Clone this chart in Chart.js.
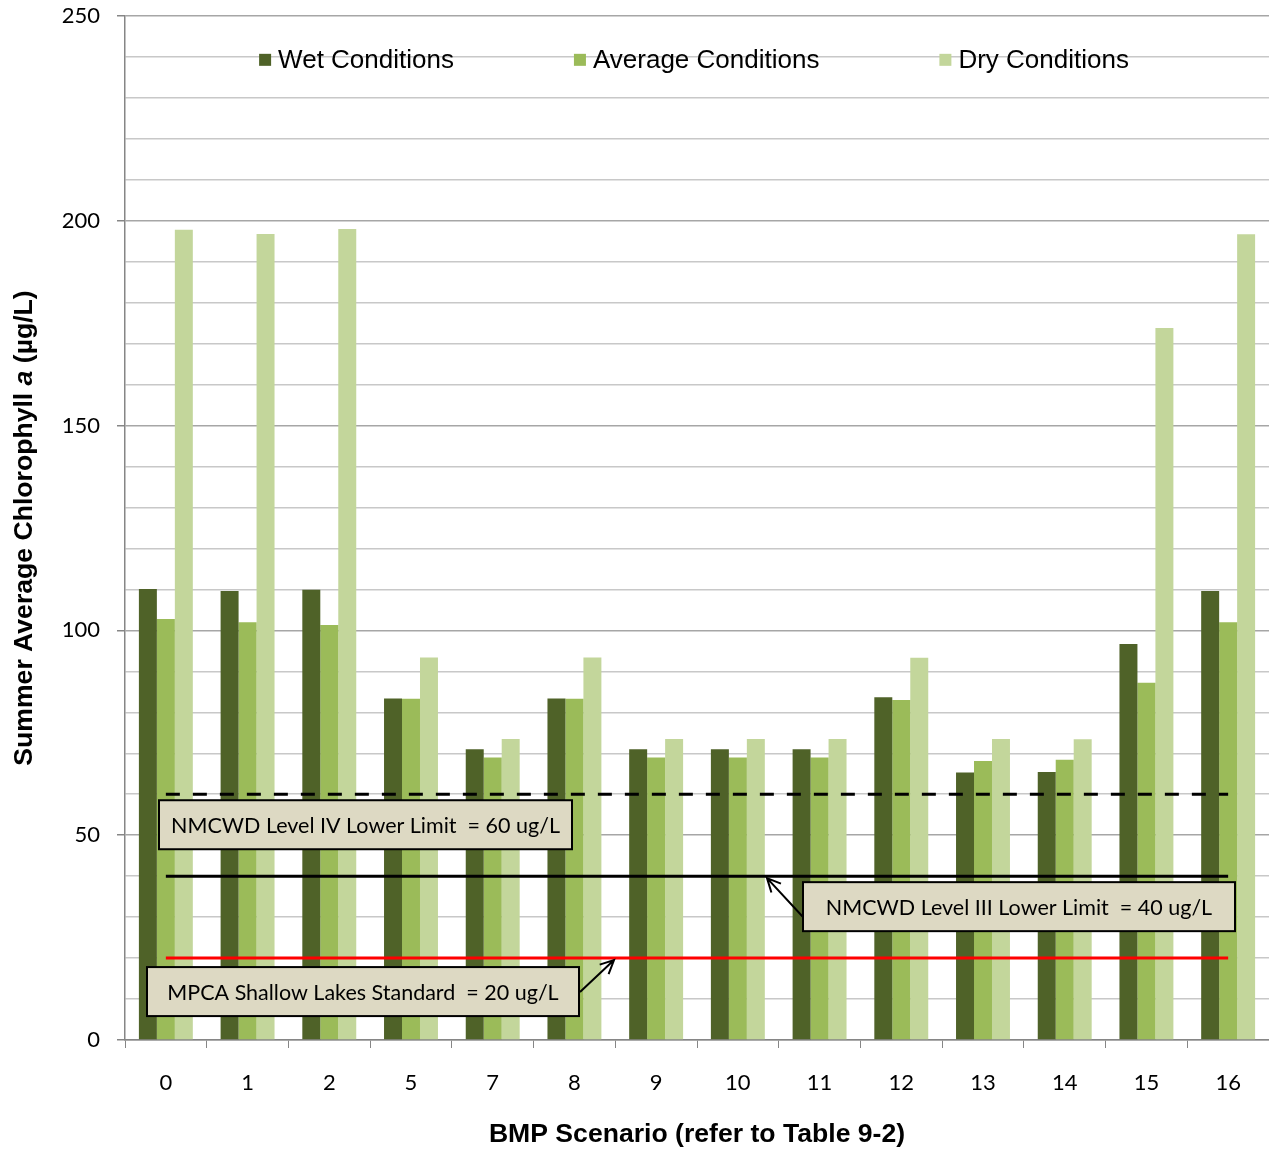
<!DOCTYPE html>
<html>
<head>
<meta charset="utf-8">
<script src="https://cdn.jsdelivr.net/npm/chart.js@4.4.1/dist/chart.umd.min.js"></script>
<style>
  html, body { margin: 0; padding: 0; background: #ffffff; }
  #wrap { width: 1269px; height: 1152px; position: relative; }
</style>
</head>
<body>
<div id="wrap"><canvas id="c" width="1269" height="1152"></canvas></div>
<script>
// ---- Data ----
const categories = ['0', '1', '2', '5', '7', '8', '9', '10', '11', '12', '13', '14', '15', '16'];
const wetValues     = [110.1, 109.6, 109.9, 83.4, 71.0, 83.4, 71.0, 71.0, 71.0, 83.7, 65.3, 65.4, 96.7, 109.6];
const averageValues = [102.8, 102.0, 101.3, 83.3, 69.0, 83.3, 69.0, 69.0, 69.0, 83.0, 68.1, 68.4, 87.2, 102.0];
const dryValues     = [197.8, 196.8, 198.0, 93.4, 73.5, 93.4, 73.5, 73.5, 73.5, 93.3, 73.5, 73.4, 173.8, 196.7];
const seriesLabels = ['Wet Conditions', 'Average Conditions', 'Dry Conditions'];
const seriesColors = ['#4F6228', '#9BBB59', '#C3D69B'];
const referenceLevels = [60, 40, 20];
const referenceLabels = [
  'NMCWD Level IV Lower Limit  = 60 ug/L',
  'NMCWD Level III Lower Limit  = 40 ug/L',
  'MPCA Shallow Lakes Standard  = 20 ug/L'
];
const yTitleParts = ['Summer Average Chlorophyll ', 'a', ' (\u00B5g/L)'];
const xTitle = 'BMP Scenario (refer to Table 9-2)';

const constantLine = (v) => categories.map(() => v);

// ---- Custom drawing plugin (legend, titles, annotation boxes) ----
const decorPlugin = {
  id: 'decor',
  afterDatasetsDraw(chart) {
    const ctx = chart.ctx;
    const area = chart.chartArea;
    const x = chart.scales.x, y = chart.scales.y;

    // Legend inside plot area
    ctx.save();
    ctx.font = '26px "Liberation Sans", Arial, sans-serif';
    ctx.textBaseline = 'middle';
    ctx.textAlign = 'left';
    const box = 12, gapBox = 7, gapItem = 120;
    const widths = seriesLabels.map(l => box + gapBox + ctx.measureText(l).width);
    const total = widths.reduce((a, b) => a + b, 0) + gapItem * (widths.length - 1);
    let lx = (area.left + area.right) / 2 - total / 2 - 3;
    const ly = y.getPixelForValue(239.3);
    seriesLabels.forEach((l, i) => {
      ctx.fillStyle = seriesColors[i];
      ctx.fillRect(lx, ly - box / 2, box, box);
      ctx.fillStyle = '#000000';
      ctx.fillText(l, lx + box + gapBox, ly + 1);
      lx += widths[i] + gapItem;
    });
    ctx.restore();

    // Annotation boxes
    const boxes = [
      { left: 159, right: 572, cy: y.getPixelForValue(60) + 30.5, h: 49 },
      { left: 803, right: 1235, cy: y.getPixelForValue(40) + 30.5, h: 49 },
      { left: 147, right: 579, cy: y.getPixelForValue(20) + 33.5, h: 49 }
    ];
    ctx.save();
    ctx.font = '21.5px Lato, "Open Sans", sans-serif';
    boxes.forEach((b, i) => {
      ctx.fillStyle = '#DDD9C3';
      ctx.fillRect(b.left, b.cy - b.h / 2, b.right - b.left, b.h);
      ctx.lineWidth = 2;
      ctx.strokeStyle = '#000000';
      ctx.strokeRect(b.left, b.cy - b.h / 2, b.right - b.left, b.h);
      ctx.fillStyle = '#000000';
      ctx.textAlign = 'center';
      ctx.textBaseline = 'middle';
      ctx.fillText(referenceLabels[i], (b.left + b.right) / 2, b.cy + 1);
    });
    ctx.restore();

    // Arrows
    function arrow(x1, y1, x2, y2) {
      ctx.save();
      ctx.strokeStyle = '#000000';
      ctx.lineWidth = 2;
      ctx.beginPath();
      ctx.moveTo(x1, y1);
      ctx.lineTo(x2, y2);
      const ang = Math.atan2(y2 - y1, x2 - x1);
      const len = 15, spread = Math.PI / 7;
      ctx.moveTo(x2 - len * Math.cos(ang - spread), y2 - len * Math.sin(ang - spread));
      ctx.lineTo(x2, y2);
      ctx.lineTo(x2 - len * Math.cos(ang + spread), y2 - len * Math.sin(ang + spread));
      ctx.stroke();
      ctx.restore();
    }
    arrow(803, 917, 767, y.getPixelForValue(40) + 2);
    arrow(580, 992, 614, y.getPixelForValue(20) + 2);

    // Y axis title (with italic "a")
    ctx.save();
    ctx.translate(25, (area.top + area.bottom) / 2);
    ctx.rotate(-Math.PI / 2);
    ctx.fillStyle = '#000000';
    ctx.textBaseline = 'middle';
    ctx.textAlign = 'left';
    const fonts = [
      'bold 26.6px "Liberation Sans", Arial, sans-serif',
      'italic bold 26.6px "Liberation Sans", Arial, sans-serif',
      'bold 26.6px "Liberation Sans", Arial, sans-serif'
    ];
    let tw = 0;
    const pw = yTitleParts.map((p, i) => { ctx.font = fonts[i]; const w = ctx.measureText(p).width; tw += w; return w; });
    let tx = -tw / 2;
    yTitleParts.forEach((p, i) => { ctx.font = fonts[i]; ctx.fillText(p, tx, 0); tx += pw[i]; });
    ctx.restore();

    // X axis title
    ctx.save();
    ctx.font = 'bold 26.6px "Liberation Sans", Arial, sans-serif';
    ctx.fillStyle = '#000000';
    ctx.textAlign = 'center';
    ctx.textBaseline = 'middle';
    ctx.fillText(xTitle, (area.left + area.right) / 2, 1135);
    ctx.restore();
  }
};

const ctx = document.getElementById('c').getContext('2d');
new Chart(ctx, {
  type: 'bar',
  data: {
    labels: categories,
    datasets: [
      { type: 'line', label: 'L60', data: constantLine(referenceLevels[0]), borderColor: '#000000', borderWidth: 3, borderDash: [14, 13], pointRadius: 0, fill: false, order: 0 },
      { type: 'line', label: 'L40', data: constantLine(referenceLevels[1]), borderColor: '#000000', borderWidth: 3, pointRadius: 0, fill: false, order: 0 },
      { type: 'line', label: 'L20', data: constantLine(referenceLevels[2]), borderColor: '#FF0000', borderWidth: 3, pointRadius: 0, fill: false, order: 0 },
      { label: seriesLabels[0], data: wetValues, backgroundColor: seriesColors[0], order: 5 },
      { label: seriesLabels[1], data: averageValues, backgroundColor: seriesColors[1], order: 5 },
      { label: seriesLabels[2], data: dryValues, backgroundColor: seriesColors[2], order: 5 }
    ]
  },
  options: {
    responsive: false,
    animation: false,
    devicePixelRatio: 1,
    layout: { padding: { left: 0, right: 0, top: 0, bottom: 0 } },
    datasets: { bar: { categoryPercentage: 0.66, barPercentage: 1.0 } },
    plugins: { legend: { display: false }, tooltip: { enabled: false } },
    scales: {
      x: {
        offset: true,
        grid: { display: true, drawOnChartArea: false, drawTicks: true, tickLength: 8, color: '#868686', offset: true },
        border: { display: true, color: '#868686', width: 1.5 },
        ticks: { color: '#000000', font: { family: 'Lato', size: 22 }, padding: 22, maxRotation: 0, autoSkip: false },
        afterFit: (s) => { s.height = 112; s.paddingLeft = 0; s.paddingRight = 0; }
      },
      y: {
        min: 0, max: 250,
        grid: {
          color: (c) => (c.tick && c.tick.value % 50 === 0) ? '#A6A6A6' : '#C8C8C8',
          lineWidth: 1.5,
          tickColor: (c) => (c.tick && c.tick.value % 50 === 0) ? '#868686' : 'rgba(0,0,0,0)',
          tickLength: 8, drawTicks: true
        },
        border: { display: true, color: '#868686', width: 1.5 },
        ticks: {
          stepSize: 10, autoSkip: false, color: '#000000', padding: 17,
          font: { family: 'Lato', size: 22 },
          callback: (v) => (v % 50 === 0 ? String(v) : '')
        },
        afterFit: (s) => { s.width = 125; s.paddingTop = 16; s.paddingBottom = 0; }
      }
    }
  },
  plugins: [decorPlugin]
});
</script>
</body>
</html>
